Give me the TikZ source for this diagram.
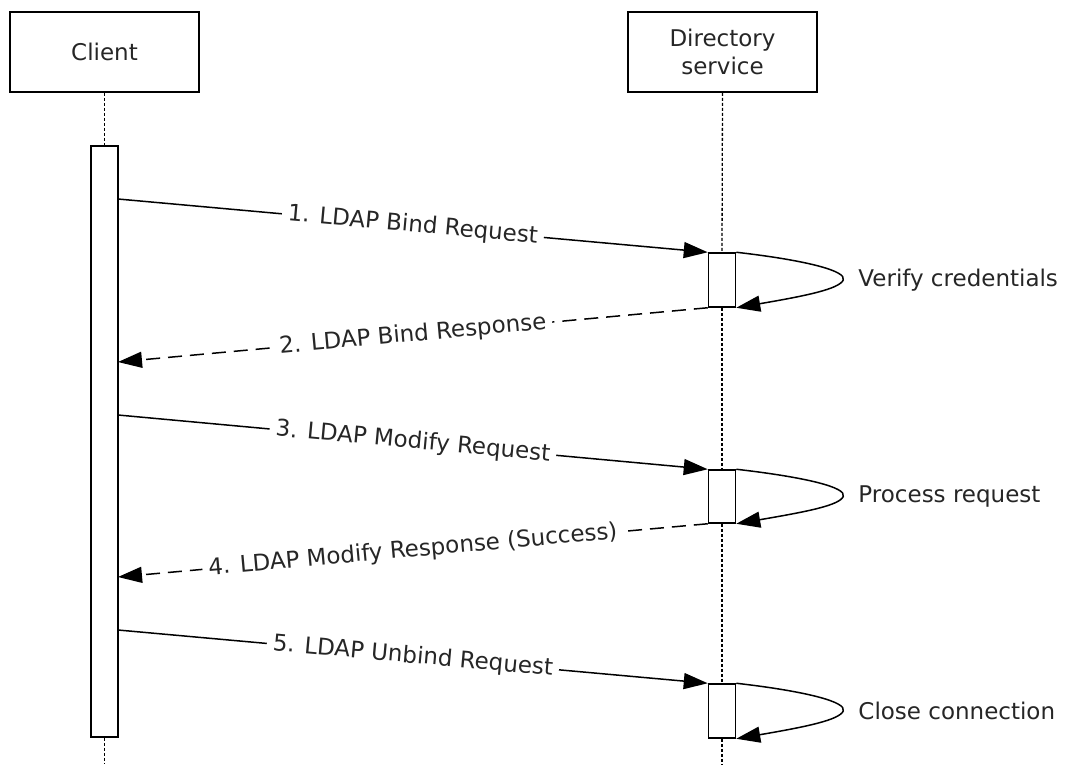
\documentclass[tikz,border=0pt]{standalone}
\usepackage{fontspec}
\setmainfont{DejaVu Sans}
\usetikzlibrary{arrows.meta}
\begin{document}
\begin{tikzpicture}[x=1pt,y=-1pt,
  every node/.style={font=\fontsize{23}{28}\selectfont, text=black!85},
  actor/.style={draw, line width=1.5pt, minimum width=189pt, minimum height=80pt, align=center, inner sep=0pt},
  bar/.style={draw, fill=white, line width=1.5pt, minimum width=27pt, inner sep=0pt},
  life/.style={line width=1.3pt, dash pattern=on 3pt off 2pt},
  msg/.style={line width=1.5pt, -{Triangle[length=24pt,width=16pt]}},
  ret/.style={msg, dash pattern=on 14pt off 8pt},
  lbl/.style={midway, sloped, fill=white, inner xsep=6pt, inner ysep=2pt}
]
\useasboundingbox (0,0) rectangle (1069,764);
% actors
\node[actor] (client) at (104.5,52) {Client};
\node[actor] (dir) at (722.5,52) {Directory\\service};
% activation bars
\node[bar, minimum height=591pt] (cb) at (104.5,441.5) {};
\node[bar, minimum height=54pt] (d1) at (722,280) {};
\node[bar, minimum height=53pt] (d2) at (722,496.5) {};
\node[bar, minimum height=54pt] (d3) at (722,711) {};
% lifelines
\coordinate (cend) at (104.5,764);
\coordinate (dend) at (722,764);
\draw[life] (client.south) -- (cb.north);
\draw[life] (cb.south) -- (cend);
\draw[life] (dir.south) -- (d1.north);
\draw[life] (d1.south) -- (d2.north);
\draw[life] (d2.south) -- (d3.north);
\draw[life] (d3.south) -- (dend);
% message endpoints on client bar
\coordinate (s1) at (118,199);
\coordinate (r2) at (118,362);
\coordinate (s3) at (118,415);
\coordinate (r4) at (118,577);
\coordinate (s5) at (118,630);
% messages
\draw[msg] (s1) -- (d1.north west) node[lbl] {1. LDAP Bind Request};
\draw[ret] (d1.south west) -- (r2) node[lbl] {2. LDAP Bind Response};
\draw[msg] (s3) -- (d2.north west) node[lbl] {3. LDAP Modify Request};
\draw[ret] (d2.south west) -- (r4) node[lbl] {4. LDAP Modify Response (Success)};
\draw[msg] (s5) -- (d3.north west) node[lbl] {5. LDAP Unbind Request};
% self loops
\foreach \b/\t in {d1/Verify credentials, d2/Process request, d3/Close connection}{
  \coordinate (nose) at ([xshift=107pt]\b.east);
  \draw[msg] (\b.north east) .. controls +(70,8) and +(4,-9) .. (nose)
     .. controls +(-4,9) and +(70,-12) .. (\b.south east);
  \node[anchor=west, inner sep=0pt] (\b lbl) at ([xshift=15pt]nose) {\t};
}
\end{tikzpicture}
\end{document}
